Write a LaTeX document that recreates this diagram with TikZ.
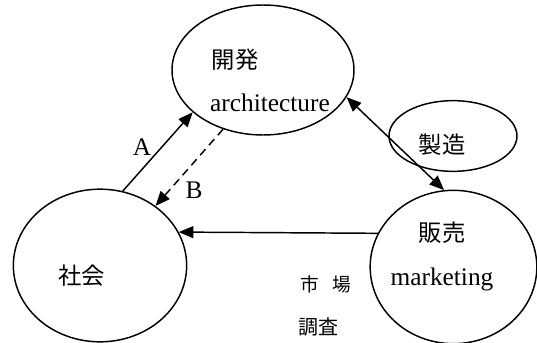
\documentclass[tikz,border=0pt]{standalone}
\usepackage{fontspec}
\setmainfont{Liberation Serif}
\newfontfamily\jp{Noto Sans CJK JP}
\usetikzlibrary{shapes.geometric,arrows.meta}
\tikzset{
  oval/.style={draw,ellipse,line width=1.1pt,inner sep=0pt},
  lat/.style={font=\fontsize{19}{20}\selectfont},
  cjk/.style={font=\jp\fontsize{17.5}{20}\selectfont},
  tip/.style={line width=1.1pt},
  conn/.style={line width=1.1pt,-{Triangle[length=11pt,width=9pt]}},
  lbl/.style={font=\fontsize{19}{20}\selectfont}
}
\begin{document}
\begin{tikzpicture}[x=0.75pt,y=-0.75pt]
\useasboundingbox (0,0) rectangle (537,343);
% ellipses
\node[oval,minimum width=136.5pt,minimum height=97.5pt] (kaihatsu) at (263,70) {};
\node[oval,minimum width=130pt,minimum height=114.5pt] (shakai) at (100,265.5) {};
\node[oval,minimum width=125pt,minimum height=115pt] (hanbai) at (453.5,267) {};
\node[oval,minimum width=96pt,minimum height=53pt] (seizo) at (453,136) {};
% texts
\node[cjk] (t1) at (235,60) {開発};
\node[lat] (t2) at (270,103) {architecture};
\node[cjk] (t3) at (82,276) {社会};
\node[cjk] (t4) at (442,233) {販売};
\node[lat] (t5) at (442,279) {marketing};
\node[cjk] (t6) at (442,145) {製造};
\node[cjk,font=\jp\fontsize{14}{16}\selectfont] (t7) at (326,284) {市\hspace{0.7em}場};
\node[cjk,font=\jp\fontsize{15}{16}\selectfont] (t8) at (318,327) {調査};
% connectors
\draw[conn] (shakai.73.6) -- (kaihatsu.211.7);
\draw[conn,dash pattern=on 6pt off 4pt] (kaihatsu.236.5) -- (shakai.47.4);
\draw[line width=1.1pt,{Triangle[length=11pt,width=9pt]}-{Triangle[length=11pt,width=9pt]}] (kaihatsu.-18) -- (hanbai.97.3);
\draw[conn] (hanbai.156) -- (shakai.23);
% labels
\node[lbl] (la) at (142,147) {A};
\node[lbl] (lb) at (194,190) {B};
\end{tikzpicture}
\end{document}
